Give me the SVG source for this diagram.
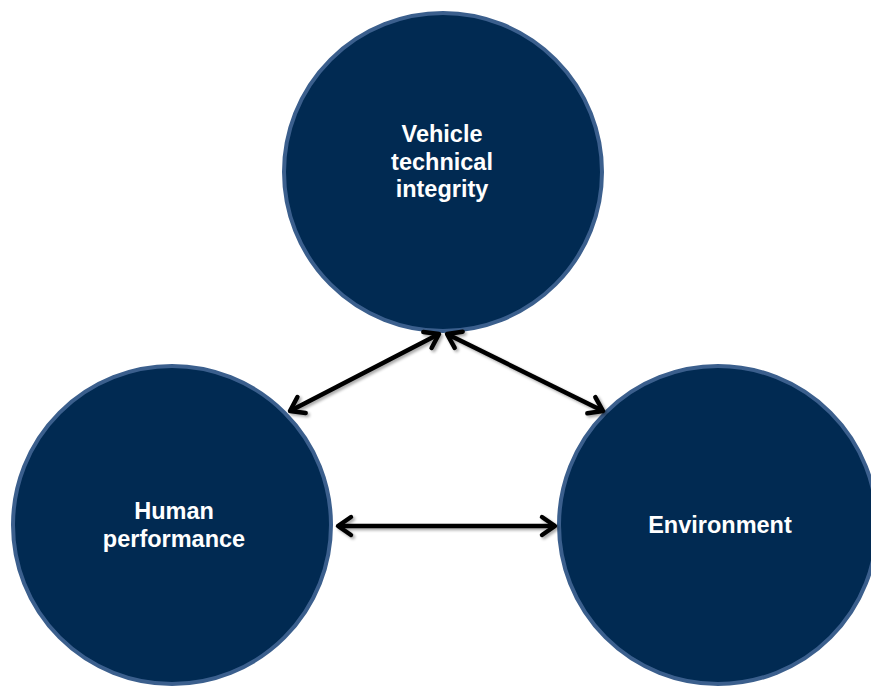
<svg xmlns="http://www.w3.org/2000/svg" width="871" height="686" viewBox="0 0 871 686">
<style>
.node circle{fill:#012a52;stroke:#3b5f8d;stroke-width:4}
.lbl{font-family:"Liberation Sans",Arial,sans-serif;font-weight:bold;font-size:23.5px;fill:#ffffff;text-anchor:middle}
.conn{stroke:#000;stroke-width:4.5;fill:none;marker-start:url(#ah);marker-end:url(#ah);filter:url(#sh)}
</style>
<defs>
<marker id="ah" markerUnits="userSpaceOnUse" markerWidth="40" markerHeight="40" refX="0" refY="0" viewBox="-20 -20 40 40" orient="auto-start-reverse" overflow="visible">
<path d="M-13,-9 L0,0 L-13,9" fill="none" stroke="#000" stroke-width="4.5" stroke-linecap="round" stroke-linejoin="round"/>
</marker>
<filter id="sh" filterUnits="userSpaceOnUse" x="0" y="0" width="871" height="686">
<feGaussianBlur in="SourceAlpha" stdDeviation="1.5"/>
<feOffset dx="1.5" dy="2" result="b"/>
<feComponentTransfer><feFuncA type="linear" slope="0.35"/></feComponentTransfer>
<feMerge><feMergeNode/><feMergeNode in="SourceGraphic"/></feMerge>
</filter>
</defs>
<g id="vehicle" class="node">
<circle cx="443" cy="172" r="159"/>
<text class="lbl" x="442" y="142">Vehicle</text>
<text class="lbl" x="442" y="169.5">technical</text>
<text class="lbl" x="442" y="197">integrity</text>
</g>
<g id="human" class="node">
<circle cx="172" cy="525" r="159"/>
<text class="lbl" x="174" y="519">Human</text>
<text class="lbl" x="174" y="547">performance</text>
</g>
<g id="environment" class="node">
<circle cx="718" cy="525" r="159"/>
<text class="lbl" x="720" y="532.5">Environment</text>
</g>
<g id="connectors">
<line class="conn" x1="290" y1="411" x2="439" y2="334"/>
<line class="conn" x1="447" y1="334" x2="603" y2="411"/>
<line class="conn" x1="338" y1="526" x2="555" y2="526"/>
</g>
</svg>
